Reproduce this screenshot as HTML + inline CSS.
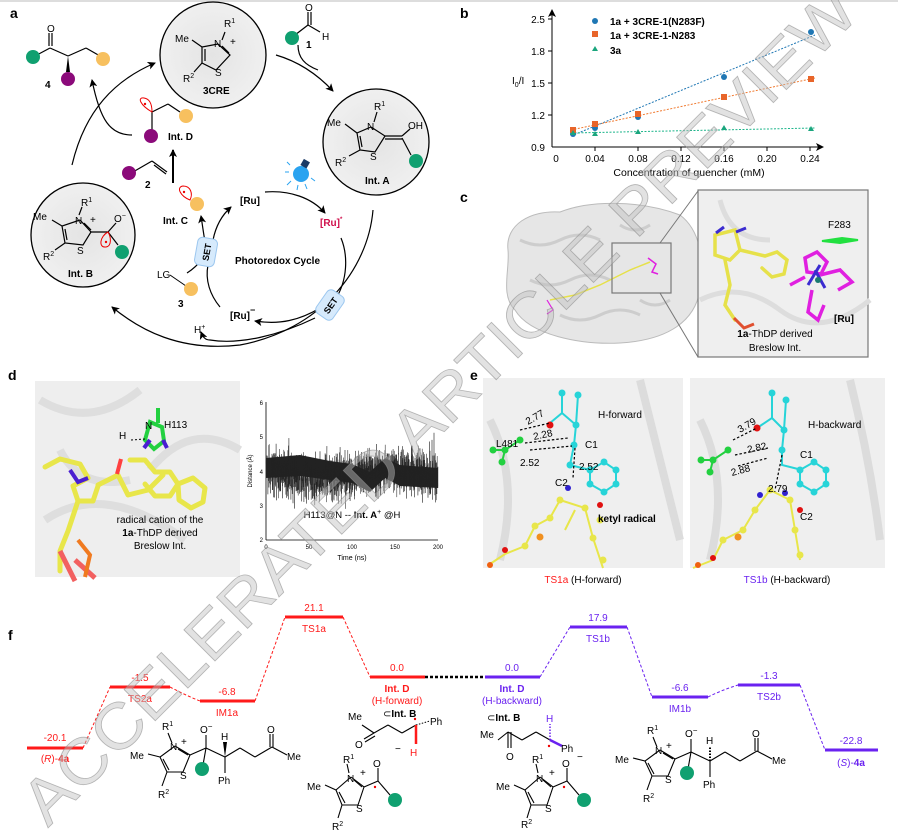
<!DOCTYPE html>
<html><head><meta charset="utf-8"><style>
html,body{margin:0;padding:0;background:#fff}
svg{display:block}
text{font-family:"Liberation Sans",Arial,sans-serif}
.b{font-weight:bold}
</style></head><body>
<svg width="898" height="839" viewBox="0 0 898 839" xmlns="http://www.w3.org/2000/svg">
<defs>
<marker id="ar" markerWidth="8" markerHeight="8" refX="7" refY="4" orient="auto" markerUnits="userSpaceOnUse"><path d="M0,0 L8,4 L0,8 L2,4 z" fill="#000"/></marker>
<radialGradient id="prot" cx="50%" cy="50%" r="60%"><stop offset="0" stop-color="#e4e4e4"/><stop offset="1" stop-color="#f2f2f2"/></radialGradient>
</defs>
<rect width="898" height="839" fill="#fff"/>
<line x1="0" y1="1" x2="898" y2="1" stroke="#ddd" stroke-width="2"/>

<!-- ============ PANEL A ============ -->
<text x="10" y="18" font-size="14" class="b">a</text>
<g stroke="#000" stroke-width="1.3">
<circle cx="213" cy="55" r="53" fill="url(#prot)"/>
<circle cx="376" cy="142" r="53" fill="url(#prot)"/>
<circle cx="83" cy="235" r="52" fill="url(#prot)"/>
</g>
<g stroke="#000" stroke-width="1.2" fill="none">
<polyline points="218,44 230,55 216,70 202,63 202,47 218,44"/>
<line x1="205" y1="49" x2="205" y2="61"/><line x1="222" y1="46" x2="229" y2="53"/>
<line x1="202" y1="47" x2="192" y2="40"/><line x1="202" y1="63" x2="194" y2="72"/><line x1="222" y1="40" x2="225" y2="32"/>
</g>
<text x="175" y="42" font-size="10">Me</text><text x="214" y="47" font-size="10">N</text><text x="224" y="27" font-size="10">R<tspan font-size="7" dy="-4">1</tspan></text>
<text x="230" y="45" font-size="10">+</text><text x="215" y="76" font-size="10">S</text><text x="183" y="82" font-size="10">R<tspan font-size="7" dy="-4">2</tspan></text>
<text x="203" y="94" font-size="10" class="b">3CRE</text>
<g stroke="#000" stroke-width="1.2" fill="none">
<polyline points="371,127 385,136 375,152 360,150 357,133 371,127"/>
<line x1="360" y1="136" x2="362" y2="147"/>
<line x1="385" y1="136" x2="402" y2="136"/><line x1="385" y1="139" x2="402" y2="139"/>
<line x1="402" y1="136" x2="410" y2="129"/><line x1="402" y1="138" x2="411" y2="155"/>
<line x1="357" y1="133" x2="345" y2="124"/><line x1="360" y1="150" x2="349" y2="156"/><line x1="374" y1="122" x2="377" y2="112"/>
</g>
<text x="327" y="126" font-size="10">Me</text><text x="367" y="130" font-size="10">N</text><text x="374" y="110" font-size="10">R<tspan font-size="7" dy="-4">1</tspan></text>
<text x="408" y="129" font-size="10">OH</text><text x="370" y="160" font-size="10">S</text><text x="335" y="166" font-size="10">R<tspan font-size="7" dy="-4">2</tspan></text>
<circle cx="416" cy="161" r="7" fill="#10a070"/>
<text x="365" y="184" font-size="10" class="b">Int. A</text>
<g stroke="#000" stroke-width="1.2" fill="none">
<polyline points="80,220 91,232 83,245 65,243 62,226 80,220"/>
<line x1="65" y1="229" x2="67" y2="240"/><line x1="84" y1="223" x2="91" y2="230"/>
<line x1="91" y1="232" x2="108" y2="232"/><line x1="108" y1="232" x2="116" y2="223"/><line x1="108" y1="232" x2="118" y2="245"/>
<line x1="62" y1="226" x2="52" y2="220"/><line x1="65" y1="243" x2="55" y2="250"/><line x1="79" y1="215" x2="82" y2="207"/>
</g>
<path d="M108,232 C100,236 98,248 106,247 C112,246 111,237 108,232z" fill="none" stroke="#e00" stroke-width="1"/><circle cx="106" cy="242" r="1.2" fill="#e00"/>
<text x="33" y="220" font-size="10">Me</text><text x="75" y="224" font-size="10">N</text><text x="81" y="206" font-size="10">R<tspan font-size="7" dy="-4">1</tspan></text>
<text x="90" y="223" font-size="10">+</text><text x="114" y="222" font-size="10">O<tspan font-size="7" dy="-4">−</tspan></text>
<text x="77" y="254" font-size="10">S</text><text x="43" y="260" font-size="10">R<tspan font-size="7" dy="-4">2</tspan></text>
<circle cx="122" cy="252" r="7" fill="#10a070"/>
<text x="68" y="277" font-size="10" class="b">Int. B</text>
<g stroke="#000" stroke-width="1.2" fill="none">
<line x1="35" y1="56" x2="50" y2="48"/><line x1="50" y1="48" x2="68" y2="56"/><line x1="68" y1="56" x2="86" y2="48"/><line x1="86" y1="48" x2="100" y2="56"/>
<line x1="49" y1="46" x2="49" y2="33"/><line x1="52" y1="46" x2="52" y2="33"/>
</g>
<path d="M68,56 L66,72 L70,72z" fill="#000"/>
<text x="47" y="32" font-size="10">O</text>
<circle cx="33" cy="57" r="7" fill="#10a070"/><circle cx="103" cy="59" r="7" fill="#f7c05f"/><circle cx="68" cy="79" r="7" fill="#8b0a7a"/>
<text x="45" y="88" font-size="10" class="b">4</text>
<g stroke="#000" stroke-width="1.2" fill="none"><line x1="295" y1="35" x2="308" y2="25"/><line x1="308" y1="25" x2="320" y2="32"/><line x1="308" y1="25" x2="308" y2="12"/><line x1="311" y1="25" x2="311" y2="12"/></g>
<text x="305" y="11" font-size="10">O</text><text x="322" y="40" font-size="10">H</text><text x="306" y="48" font-size="10" class="b">1</text>
<circle cx="292" cy="38" r="7" fill="#10a070"/>
<g stroke="#000" stroke-width="1.2" fill="none"><line x1="152" y1="112" x2="152" y2="130"/><line x1="152" y1="112" x2="168" y2="104"/><line x1="168" y1="104" x2="180" y2="112"/></g>
<path d="M152,112 C140,105 137,97 144,98 C151,99 152,106 152,112z" fill="none" stroke="#e00" stroke-width="1"/><circle cx="145" cy="104" r="1.2" fill="#e00"/>
<circle cx="186" cy="116" r="7" fill="#f7c05f"/><circle cx="151" cy="136" r="7" fill="#8b0a7a"/>
<text x="168" y="140" font-size="10" class="b">Int. D</text>
<g stroke="#000" stroke-width="1.2" fill="none"><line x1="133" y1="172" x2="152" y2="161"/><line x1="152" y1="161" x2="167" y2="172"/><line x1="154" y1="165" x2="166" y2="174"/></g>
<circle cx="129" cy="173" r="7" fill="#8b0a7a"/><text x="145" y="188" font-size="10" class="b">2</text>
<line x1="173" y1="183" x2="173" y2="150" stroke="#000" stroke-width="2" marker-end="url(#ar)"/>
<path d="M190,200 C180,196 176,187 183,186 C191,186 193,194 190,200z" fill="none" stroke="#e00" stroke-width="1"/><circle cx="184" cy="192" r="1.2" fill="#e00"/>
<circle cx="197" cy="204" r="7" fill="#f7c05f"/>
<text x="163" y="224" font-size="10" class="b">Int. C</text>
<line x1="170" y1="275" x2="186" y2="286" stroke="#000" stroke-width="1"/>
<text x="157" y="278" font-size="10">LG</text><circle cx="191" cy="289" r="7" fill="#f7c05f"/><text x="178" y="307" font-size="10" class="b">3</text>
<g stroke="#000" stroke-width="1.2" fill="none">
<path d="M72,165 C85,110 115,80 155,63" marker-end="url(#ar)"/>
<path d="M276,55 C300,62 318,75 333,91" marker-end="url(#ar)"/>
<path d="M298,45 C298,58 305,65 318,70"/>
<path d="M373,210 C368,270 320,330 240,345 C180,352 140,330 112,307" marker-end="url(#ar)"/>
<path d="M132,135 C110,135 100,120 92,80" marker-end="url(#ar)"/>
<path d="M315,318 C280,335 240,345 210,340 C205,340 203,337 201,332" marker-end="url(#ar)"/>
<path d="M265,192 C290,190 312,198 325,213" marker-end="url(#ar)"/>
<path d="M341,238 C348,255 348,280 335,300"/>
<path d="M320,308 C300,320 280,325 255,321" marker-end="url(#ar)"/>
<path d="M220,307 C210,295 205,280 208,265"/>
<path d="M213,240 C216,225 222,215 231,207" marker-end="url(#ar)"/>
<path d="M205,242 C203,230 202,222 201,216" marker-end="url(#ar)"/>
<path d="M187,273 C195,268 200,262 203,258"/>
</g>
<text x="240" y="204" font-size="10" class="b">[Ru]</text>
<text x="320" y="226" font-size="10" class="b" fill="#d0104c">[Ru]<tspan font-size="6" dy="-5">*</tspan></text>
<text x="235" y="264" font-size="10" class="b">Photoredox Cycle</text>
<text x="230" y="319" font-size="10" class="b">[Ru]<tspan font-size="9" dy="-6">−</tspan></text>
<text x="194" y="333" font-size="10">H<tspan font-size="7" dy="-4">+</tspan></text>
<g transform="translate(206,252) rotate(-80)"><rect x="-14" y="-10" width="28" height="20" rx="5" fill="#d6eafc" stroke="#9cc7ef"/><text x="0" y="4" font-size="9" class="b" text-anchor="middle">SET</text></g>
<g transform="translate(330,305) rotate(-55)"><rect x="-14" y="-10" width="28" height="20" rx="5" fill="#d6eafc" stroke="#9cc7ef"/><text x="0" y="4" font-size="9" class="b" text-anchor="middle">SET</text></g>
<g><circle cx="301" cy="174" r="8" fill="#2aa3f0"/><rect x="302" y="160" width="7" height="7" fill="#1b3b66" transform="rotate(30 305 163)"/>
<g stroke="#2aa3f0" stroke-width="1"><line x1="289" y1="172" x2="285" y2="172"/><line x1="291" y1="181" x2="287" y2="185"/><line x1="298" y1="185" x2="297" y2="190"/><line x1="305" y1="184" x2="307" y2="189"/><line x1="311" y1="178" x2="315" y2="181"/><line x1="290" y1="165" x2="287" y2="162"/></g></g>

<!-- ============ PANEL B ============ -->
<text x="460" y="18" font-size="14" class="b">b</text>
<g stroke="#000" stroke-width="1" fill="none">
<line x1="552" y1="147" x2="552" y2="10" marker-end="url(#ar)"/><line x1="552" y1="147" x2="823" y2="147" marker-end="url(#ar)"/>
<line x1="548" y1="19" x2="552" y2="19"/><line x1="548" y1="51" x2="552" y2="51"/><line x1="548" y1="83" x2="552" y2="83"/><line x1="548" y1="115" x2="552" y2="115"/>
<line x1="595" y1="147" x2="595" y2="151"/><line x1="638" y1="147" x2="638" y2="151"/><line x1="681" y1="147" x2="681" y2="151"/><line x1="724" y1="147" x2="724" y2="151"/><line x1="767" y1="147" x2="767" y2="151"/><line x1="810" y1="147" x2="810" y2="151"/>
</g>
<g font-size="10" text-anchor="end"><text x="545" y="23">2.5</text><text x="545" y="55">1.8</text><text x="545" y="87">1.5</text><text x="545" y="119">1.2</text><text x="545" y="151">0.9</text></g>
<g font-size="10" text-anchor="middle"><text x="556" y="162">0</text><text x="595" y="162">0.04</text><text x="638" y="162">0.08</text><text x="681" y="162">0.12</text><text x="724" y="162">0.16</text><text x="767" y="162">0.20</text><text x="810" y="162">0.24</text></g>
<text x="689" y="176" font-size="10.5" text-anchor="middle">Concentration of quencher (mM)</text>
<text x="512" y="84" font-size="10">I<tspan font-size="7" dy="3">0</tspan><tspan dy="-3">/I</tspan></text>
<g stroke-dasharray="2,1.5" stroke-width="1">
<line x1="571" y1="136" x2="815" y2="35" stroke="#1f77b4"/>
<line x1="571" y1="130" x2="815" y2="78" stroke="#f07a30"/>
<line x1="571" y1="133" x2="815" y2="128" stroke="#1bb58a"/>
</g>
<g fill="#1f77b4"><circle cx="573" cy="134" r="3"/><circle cx="595" cy="128" r="3"/><circle cx="638" cy="117" r="3"/><circle cx="724" cy="77" r="3"/><circle cx="811" cy="32" r="3"/><circle cx="595" cy="21" r="3"/></g>
<g fill="#e8652a"><rect x="570" y="127" width="6" height="6"/><rect x="592" y="121" width="6" height="6"/><rect x="635" y="111" width="6" height="6"/><rect x="721" y="94" width="6" height="6"/><rect x="808" y="76" width="6" height="6"/><rect x="592" y="31" width="6" height="6"/></g>
<g fill="#1aa57d"><path d="M573,130 l3,5 h-6z"/><path d="M595,131 l3,5 h-6z"/><path d="M638,129 l3,5 h-6z"/><path d="M724,125 l3,5 h-6z"/><path d="M811,126 l3,5 h-6z"/><path d="M595,46 l3,5 h-6z"/></g>
<g font-size="10" class="b"><text x="610" y="25">1a + 3CRE-1(N283F)</text><text x="610" y="39">1a + 3CRE-1-N283</text><text x="610" y="54">3a</text></g>

<!-- ============ PANEL C ============ -->
<text x="460" y="202" font-size="14" class="b">c</text>
<path d="M508,250 C505,225 530,210 560,212 C590,200 640,200 680,215 C700,230 705,260 700,290 C695,320 670,340 620,343 C580,345 530,335 515,310 C500,295 510,270 508,250z" fill="#e6e6e6" stroke="#bbb"/>
<g stroke="#cdcdcd" stroke-width="3" fill="none"><path d="M520,240 q20,10 40,0 t40,0"/><path d="M530,280 q20,10 40,0 t40,0"/><path d="M560,315 q20,10 40,0 t40,0"/><path d="M620,225 q15,10 30,0"/><path d="M640,300 q15,10 30,0"/></g>
<polyline points="550,300 575,295 600,285 630,270 650,262" fill="none" stroke="#e6e14a" stroke-width="1.5"/>
<path d="M648,258 l8,6 l-4,8 l6,2" fill="none" stroke="#e020e0" stroke-width="1.5"/>
<path d="M547,300 l6,10 l-6,4" fill="none" stroke="#e020e0" stroke-width="1.2"/>
<rect x="612" y="243" width="59" height="50" fill="none" stroke="#777" stroke-width="1.2"/>
<line x1="660" y1="243" x2="698" y2="191" stroke="#777"/><line x1="660" y1="293" x2="698" y2="357" stroke="#777"/>
<rect x="698" y="190" width="170" height="167" fill="#efefef" stroke="#777" stroke-width="1.2"/>
<g stroke="#ddd" stroke-width="5" fill="none"><path d="M700,300 q40,-20 80,10 t90,-10"/><path d="M720,200 q10,40 50,40"/></g>
<g stroke="#e6e14a" stroke-width="3.5" fill="none" stroke-linecap="round">
<path d="M715,235 l0,20 l15,5 l10,-10 l-5,-20 l-20,5z"/><path d="M725,260 l5,25 l-5,20 l10,15"/><path d="M740,250 l25,6 l12,-4 l10,8 l-3,14 l-12,3 l-10,-9"/>
</g>
<g stroke="#e05030" stroke-width="3" fill="none"><path d="M734,318 l10,10 l10,-4"/></g>
<path d="M736,232 l10,-4 M716,233 l8,-6" stroke="#3b2cd0" stroke-width="3"/>
<g stroke="#e020e0" stroke-width="3.5" fill="none"><path d="M805,258 l12,-6 l10,10 l-6,12 l-14,-2z"/><path d="M820,275 l20,-5 l12,12 l-14,8"/><path d="M812,290 l-4,22 l10,8 l6,-15"/><path d="M790,285 l15,-8"/></g>
<path d="M815,270 l10,18 M820,265 l-12,20" stroke="#3b2cd0" stroke-width="3"/><circle cx="818" cy="280" r="3" fill="#1a7a70"/>
<path d="M822,241 l20,-3 l16,2 l-18,3z" fill="#22e040" stroke="#22e040" stroke-width="2"/>
<text x="828" y="228" font-size="10">F283</text>
<text x="834" y="322" font-size="10" class="b">[Ru]</text>
<text x="775" y="337" font-size="10" text-anchor="middle"><tspan class="b">1a</tspan>-ThDP derived</text>
<text x="775" y="351" font-size="10" text-anchor="middle">Breslow Int.</text>

<!-- ============ PANEL D ============ -->
<text x="8" y="380" font-size="14" class="b">d</text>
<rect x="35" y="381" width="205" height="196" fill="#eeeeee"/>
<g stroke="#dedede" stroke-width="8" fill="none"><path d="M40,400 q50,30 100,-10"/><path d="M45,520 q60,-40 140,20"/><path d="M150,470 q40,-50 90,-20"/><path d="M60,450 q20,40 70,30"/></g>
<g stroke="#e8e64a" stroke-width="5" fill="none" stroke-linejoin="round" stroke-linecap="round">
<path d="M45,467 l15,-8 l20,5 l8,14"/><path d="M88,478 l-15,8 l5,15 l15,0 l5,-15"/>
<path d="M78,501 l-10,30 l-8,20 l0,20"/><path d="M98,485 l20,-10 l10,20 l20,-5 l15,-15"/>
<path d="M130,460 l15,0 l10,12 l15,0 l8,12 l-8,12 l-15,0 l-10,-12"/><path d="M178,484 l15,-6 l12,10 l-2,14 l-12,6 l-12,-8z"/>
</g>
<path d="M60,551 l15,30 M75,560 l20,18" stroke="#f26060" stroke-width="5"/>
<path d="M78,540 l12,15 l-5,22" stroke="#f07a20" stroke-width="4" fill="none"/>
<path d="M117,474 l4,-15" stroke="#ff4040" stroke-width="4"/>
<path d="M70,470 l8,12 l10,-4" stroke="#4a1ed0" stroke-width="4" fill="none"/>
<path d="M145,440 l5,-18 l12,5 l2,14 l-10,8z M158,423 l0,-15" stroke="#22d040" stroke-width="4" fill="none"/>
<path d="M150,440 l-6,8 M163,440 l4,8" stroke="#4a1ed0" stroke-width="4"/>
<line x1="131" y1="440" x2="145" y2="439" stroke="#000" stroke-dasharray="2,2"/>
<text x="119" y="439" font-size="10">H</text><text x="145" y="429" font-size="10">N</text><text x="164" y="428" font-size="10">H113</text>
<text x="160" y="523" font-size="10" text-anchor="middle">radical cation of the</text>
<text x="160" y="536" font-size="10" text-anchor="middle"><tspan class="b">1a</tspan>-ThDP derived</text>
<text x="160" y="549" font-size="10" text-anchor="middle">Breslow Int.</text>
<g stroke="#000" stroke-width="0.8"><line x1="266" y1="402" x2="266" y2="540"/><line x1="266" y1="540" x2="438" y2="540"/></g>
<g font-size="6" text-anchor="end"><text x="263" y="405">6</text><text x="263" y="439">5</text><text x="263" y="474">4</text><text x="263" y="508">3</text><text x="263" y="542">2</text></g>
<g font-size="6" text-anchor="middle"><text x="266" y="549">0</text><text x="309" y="549">50</text><text x="352" y="549">100</text><text x="395" y="549">150</text><text x="438" y="549">200</text></g>
<text x="352" y="560" font-size="7" text-anchor="middle">Time (ns)</text>
<text x="252" y="471" font-size="6" text-anchor="middle" transform="rotate(-90 252 471)">Distance (Å)</text>
<path d="M266,458 L300,455 L330,461 L352,464 L370,472 L385,458 L400,465 L438,468 L438,488 L400,486 L385,478 L370,492 L352,483 L330,480 L300,476 L266,478z" fill="#222"/>
<polyline id="noise" fill="none" stroke="#222" stroke-width="0.4" points=""/>
<text x="352" y="518" font-size="9.5" text-anchor="middle">H113@N -- <tspan class="b">Int. A</tspan><tspan font-size="7" dy="-4">+</tspan><tspan dy="4"> @H</tspan></text>

<!-- ============ PANEL E ============ -->
<text x="470" y="380" font-size="14" class="b">e</text>
<rect x="483" y="378" width="200" height="190" fill="#efefef"/>
<rect x="690" y="378" width="195" height="190" fill="#efefef"/>
<g stroke="#dcdcdc" stroke-width="8" fill="none"><path d="M490,420 q30,60 10,140"/><path d="M640,380 q20,80 40,160"/><path d="M700,420 q30,60 10,140"/><path d="M850,380 q20,80 30,160"/></g>
<g stroke="#27d4d8" stroke-width="2" fill="none"><path d="M562,393 l0,20 l-12,10 M562,413 l14,12 l-2,20 l-4,20 l20,5 M576,425 l2,-30 M590,470 l14,-8 l12,8 l0,14 l-12,8 l-14,-8z"/></g>
<g fill="#27d4d8"><circle cx="562" cy="393" r="3.5"/><circle cx="576" cy="425" r="3.5"/><circle cx="578" cy="395" r="3.5"/><circle cx="574" cy="445" r="3.5"/><circle cx="570" cy="465" r="3.5"/><circle cx="590" cy="470" r="3.5"/><circle cx="604" cy="462" r="3.5"/><circle cx="616" cy="470" r="3.5"/><circle cx="616" cy="484" r="3.5"/><circle cx="604" cy="492" r="3.5"/><circle cx="590" cy="484" r="3.5"/></g>
<circle cx="550" cy="425" r="3.5" fill="#e01010"/>
<g stroke="#e8e64a" stroke-width="2" fill="none"><path d="M560,500 l-10,18 l-15,8 l-10,20 l-20,8 l-15,10 M560,500 l25,8 l8,30 l10,30 M575,510 l-10,20"/></g>
<g fill="#e8e64a"><circle cx="550" cy="518" r="3.5"/><circle cx="535" cy="526" r="3.5"/><circle cx="525" cy="546" r="3.5"/><circle cx="585" cy="508" r="3.5"/><circle cx="593" cy="538" r="3.5"/><circle cx="603" cy="560" r="3.5"/><circle cx="600" cy="520" r="3.5"/><circle cx="560" cy="500" r="3.5"/></g>
<circle cx="540" cy="537" r="3.5" fill="#f09020"/><circle cx="505" cy="550" r="3" fill="#e01010"/><circle cx="490" cy="565" r="3" fill="#f06010"/>
<circle cx="568" cy="488" r="3" fill="#3020d0"/><circle cx="600" cy="505" r="3" fill="#e01010"/>
<g stroke="#22d040" stroke-width="2" fill="none"><path d="M520,440 l-15,10 l-10,0 M505,450 l-3,12"/></g>
<g fill="#22d040"><circle cx="520" cy="440" r="3.5"/><circle cx="505" cy="450" r="3.5"/><circle cx="493" cy="450" r="3.5"/><circle cx="502" cy="462" r="3.5"/></g>
<g stroke="#000" stroke-dasharray="2.5,2" stroke-width="1.2" fill="none"><line x1="520" y1="430" x2="550" y2="423"/><line x1="525" y1="443" x2="568" y2="438"/><line x1="530" y1="450" x2="572" y2="446"/><line x1="575" y1="448" x2="573" y2="478"/></g>
<g font-size="10"><text x="528" y="425" transform="rotate(-30 528 425)">2.77</text><text x="534" y="440" transform="rotate(-12 534 440)">2.28</text><text x="520" y="466">2.52</text><text x="579" y="470">2.52</text>
<text x="598" y="418">H-forward</text><text x="585" y="448">C1</text><text x="555" y="486">C2</text><text x="496" y="447">L481</text><text x="598" y="522" class="b">ketyl radical</text></g>
<text x="583" y="583" font-size="10" text-anchor="middle"><tspan fill="#ff1a1a">TS1a</tspan> (H-forward)</text>
<g stroke="#27d4d8" stroke-width="2" fill="none"><path d="M772,393 l0,25 l-15,10 M772,418 l12,12 l-2,20 l0,15 l20,5 M784,430 l2,-30 M800,470 l14,-8 l12,8 l0,14 l-12,8 l-14,-8z"/></g>
<g fill="#27d4d8"><circle cx="772" cy="393" r="3.5"/><circle cx="784" cy="430" r="3.5"/><circle cx="786" cy="400" r="3.5"/><circle cx="782" cy="450" r="3.5"/><circle cx="800" cy="470" r="3.5"/><circle cx="814" cy="462" r="3.5"/><circle cx="826" cy="470" r="3.5"/><circle cx="826" cy="484" r="3.5"/><circle cx="814" cy="492" r="3.5"/><circle cx="800" cy="484" r="3.5"/></g>
<circle cx="757" cy="428" r="3.5" fill="#e01010"/>
<g stroke="#e8e64a" stroke-width="2" fill="none"><path d="M770,490 l-15,20 l-12,20 l-20,10 l-10,20 l-20,8 M770,490 l20,10 l5,30 l5,30"/></g>
<g fill="#e8e64a"><circle cx="755" cy="510" r="3.5"/><circle cx="743" cy="530" r="3.5"/><circle cx="723" cy="540" r="3.5"/><circle cx="790" cy="500" r="3.5"/><circle cx="795" cy="530" r="3.5"/><circle cx="800" cy="555" r="3.5"/><circle cx="770" cy="490" r="3.5"/></g>
<circle cx="738" cy="537" r="3.5" fill="#f09020"/><circle cx="713" cy="558" r="3" fill="#e01010"/><circle cx="698" cy="565" r="3" fill="#f06010"/>
<circle cx="760" cy="495" r="3" fill="#3020d0"/><circle cx="785" cy="493" r="3" fill="#3020d0"/><circle cx="800" cy="510" r="3" fill="#e01010"/>
<g stroke="#22d040" stroke-width="2" fill="none"><path d="M728,450 l-15,10 l-10,0 M713,460 l-3,12"/></g>
<g fill="#22d040"><circle cx="728" cy="450" r="3.5"/><circle cx="713" cy="460" r="3.5"/><circle cx="701" cy="460" r="3.5"/><circle cx="710" cy="472" r="3.5"/></g>
<g stroke="#000" stroke-dasharray="2.5,2" stroke-width="1.2" fill="none"><line x1="733" y1="440" x2="757" y2="428"/><line x1="735" y1="455" x2="768" y2="448"/><line x1="738" y1="466" x2="768" y2="458"/><line x1="782" y1="455" x2="775" y2="490"/></g>
<g font-size="10"><text x="740" y="433" transform="rotate(-30 740 433)">3.79</text><text x="748" y="453" transform="rotate(-12 748 453)">2.82</text><text x="732" y="476" transform="rotate(-15 732 476)">2.88</text><text x="768" y="492">2.79</text>
<text x="808" y="428">H-backward</text><text x="800" y="458">C1</text><text x="800" y="520">C2</text></g>
<text x="787" y="583" font-size="10" text-anchor="middle"><tspan fill="#6a22f0">TS1b</tspan> (H-backward)</text>

<!-- ============ PANEL F ============ -->
<text x="8" y="640" font-size="14" class="b">f</text>
<g stroke="#ff1a1a" stroke-width="3"><line x1="27" y1="748" x2="83" y2="748"/><line x1="110" y1="687" x2="170" y2="687"/><line x1="200" y1="701" x2="255" y2="701"/><line x1="285" y1="617" x2="343" y2="617"/><line x1="370" y1="677" x2="425" y2="677"/></g>
<g stroke="#6a22f0" stroke-width="3"><line x1="485" y1="677" x2="540" y2="677"/><line x1="570" y1="627" x2="627" y2="627"/><line x1="652" y1="697" x2="708" y2="697"/><line x1="738" y1="685" x2="800" y2="685"/><line x1="825" y1="750" x2="878" y2="750"/></g>
<g stroke="#ff1a1a" stroke-width="1" stroke-dasharray="3,2" fill="none"><path d="M83,748 L110,687"/><path d="M170,687 Q185,695 200,701"/><path d="M255,701 L285,617"/><path d="M343,617 L370,677"/></g>
<line x1="425" y1="677" x2="485" y2="677" stroke="#000" stroke-width="2.5" stroke-dasharray="3,2"/>
<g stroke="#6a22f0" stroke-width="1" stroke-dasharray="3,2" fill="none"><path d="M540,677 L570,627"/><path d="M627,627 L652,697"/><path d="M708,697 Q722,690 738,685"/><path d="M800,685 L825,750"/></g>
<g font-size="10" fill="#ff1a1a" text-anchor="middle">
<text x="55" y="741">-20.1</text><text x="55" y="762">(<tspan font-style="italic">R</tspan>)-<tspan class="b">4a</tspan></text>
<text x="140" y="681">-1.5</text><text x="140" y="702">TS2a</text>
<text x="227" y="695">-6.8</text><text x="227" y="716">IM1a</text>
<text x="314" y="611">21.1</text><text x="314" y="632">TS1a</text>
<text x="397" y="671">0.0</text><text x="397" y="692" class="b">Int. D</text><text x="397" y="704">(H-forward)</text>
</g>
<g font-size="10" fill="#6a22f0" text-anchor="middle">
<text x="512" y="671">0.0</text><text x="512" y="692" class="b">Int. D</text><text x="512" y="704">(H-backward)</text>
<text x="598" y="621">17.9</text><text x="598" y="642">TS1b</text>
<text x="680" y="691">-6.6</text><text x="680" y="712">IM1b</text>
<text x="769" y="679">-1.3</text><text x="769" y="700">TS2b</text>
<text x="851" y="744">-22.8</text><text x="851" y="766">(<tspan font-style="italic">S</tspan>)-<tspan class="b">4a</tspan></text>
</g>
<!-- left adduct -->
<g stroke="#000" stroke-width="1.1" fill="none">
<polyline points="175,746 190,755 183,772 167,772 160,757 175,746"/><line x1="163" y1="759" x2="169" y2="770"/><line x1="178" y1="749" x2="188" y2="755"/>
<line x1="160" y1="757" x2="148" y2="754"/><line x1="167" y1="772" x2="162" y2="786"/><line x1="172" y1="743" x2="168" y2="733"/>
<line x1="190" y1="755" x2="206" y2="748"/><line x1="206" y1="748" x2="206" y2="735"/><line x1="206" y1="748" x2="203" y2="765"/>
<line x1="206" y1="748" x2="225" y2="757"/><line x1="225" y1="757" x2="240" y2="748"/><line x1="240" y1="748" x2="255" y2="757"/><line x1="255" y1="757" x2="272" y2="747"/><line x1="272" y1="747" x2="287" y2="755"/><line x1="270" y1="747" x2="270" y2="734"/><line x1="273" y1="747" x2="273" y2="734"/>
<line x1="225" y1="757" x2="225" y2="773"/></g>
<path d="M225,757 L223,742 L227,742z" fill="#000"/>
<g font-size="10"><text x="162" y="730">R<tspan font-size="7" dy="-4">1</tspan></text><text x="170" y="750">N</text><text x="181" y="745">+</text><text x="130" y="759">Me</text><text x="180" y="779">S</text><text x="158" y="798">R<tspan font-size="7" dy="-4">2</tspan></text><text x="200" y="733">O<tspan dy="-4" font-size="8">−</tspan></text><text x="221" y="740">H</text><text x="218" y="784">Ph</text><text x="267" y="733">O</text><text x="287" y="760">Me</text></g>
<circle cx="202" cy="769" r="7" fill="#10a070"/>
<!-- Int D forward chain -->
<g transform="translate(12,-8)">
<g stroke="#000" stroke-width="1.1" fill="none"><line x1="350" y1="733" x2="362" y2="741"/><line x1="362" y1="741" x2="376" y2="733"/><line x1="376" y1="733" x2="390" y2="741"/><line x1="390" y1="741" x2="404" y2="733"/><line x1="362" y1="741" x2="352" y2="747"/><line x1="363" y1="744" x2="353" y2="750"/></g>
<path d="M404,733 l14,-4" stroke="#000" stroke-dasharray="1.5,1.5"/><line x1="404" y1="733" x2="404" y2="752" stroke="#ff1a1a" stroke-width="2.5"/><circle cx="403" cy="727" r="1.2" fill="#e00"/>
<g font-size="10"><text x="336" y="728">Me</text><text x="343" y="756">O</text><text x="418" y="733">Ph</text><text x="371" y="725" class="b"><tspan font-weight="normal">⊂</tspan>Int. B</text><text x="398" y="764" fill="#ff1a1a">H</text><text x="383" y="760">−</text></g>
</g>
<g stroke="#000" stroke-width="1.1" fill="none"><polyline points="351,777 364,787 358,805 342,805 336,790 351,777"/><line x1="339" y1="792" x2="345" y2="803"/><line x1="354" y1="780" x2="362" y2="787"/><line x1="336" y1="790" x2="325" y2="785"/><line x1="342" y1="805" x2="338" y2="818"/><line x1="349" y1="773" x2="347" y2="764"/><line x1="364" y1="787" x2="378" y2="781"/><line x1="378" y1="781" x2="378" y2="768"/><line x1="378" y1="781" x2="390" y2="795"/></g>
<g font-size="10"><text x="343" y="763">R<tspan font-size="7" dy="-4">1</tspan></text><text x="347" y="782">N</text><text x="360" y="776">+</text><text x="307" y="790">Me</text><text x="356" y="812">S</text><text x="332" y="830">R<tspan font-size="7" dy="-4">2</tspan></text><text x="373" y="767">O</text></g>
<circle cx="375" cy="787" r="1.2" fill="#e00"/><circle cx="395" cy="800" r="7" fill="#10a070"/>
<!-- Int D backward chain -->
<g transform="translate(28,-30)">
<g stroke="#000" stroke-width="1.1" fill="none"><line x1="470" y1="770" x2="480" y2="762"/><line x1="480" y1="762" x2="494" y2="770"/><line x1="494" y1="770" x2="508" y2="762"/><line x1="508" y1="762" x2="522" y2="770"/><line x1="480" y1="762" x2="480" y2="778"/><line x1="483" y1="762" x2="483" y2="778"/></g>
<path d="M522,770 l12,6" stroke="#6a22f0" stroke-width="2.5"/><path d="M522,770 l0,-16" stroke="#6a22f0" stroke-dasharray="1.5,1.5" stroke-width="1.5"/><circle cx="521" cy="776" r="1.2" fill="#e00"/>
<g font-size="10"><text x="452" y="768">Me</text><text x="478" y="790">O</text><text x="533" y="782">Ph</text><text x="518" y="752" fill="#6a22f0">H</text></g>
</g>
<text x="487" y="721" font-size="10" class="b"><tspan font-weight="normal">⊂</tspan>Int. B</text>
<g transform="translate(70,-8)">
<g stroke="#000" stroke-width="1.1" fill="none"><polyline points="470,785 483,795 477,813 461,813 455,798 470,785"/><line x1="458" y1="800" x2="464" y2="811"/><line x1="473" y1="788" x2="481" y2="795"/><line x1="455" y1="798" x2="444" y2="793"/><line x1="461" y1="813" x2="457" y2="826"/><line x1="468" y1="781" x2="466" y2="772"/><line x1="483" y1="795" x2="497" y2="789"/><line x1="497" y1="789" x2="497" y2="776"/><line x1="497" y1="789" x2="509" y2="803"/></g>
<g font-size="10"><text x="462" y="771">R<tspan font-size="7" dy="-4">1</tspan></text><text x="466" y="790">N</text><text x="479" y="784">+</text><text x="426" y="798">Me</text><text x="475" y="820">S</text><text x="451" y="836">R<tspan font-size="7" dy="-4">2</tspan></text><text x="492" y="775">O</text><text x="507" y="768">−</text></g>
<circle cx="494" cy="795" r="1.2" fill="#e00"/><circle cx="514" cy="808" r="7" fill="#10a070"/>
</g>
<!-- right adduct -->
<g stroke="#000" stroke-width="1.1" fill="none">
<polyline points="660,750 675,759 668,776 652,776 645,761 660,750"/><line x1="648" y1="763" x2="654" y2="774"/><line x1="663" y1="753" x2="673" y2="759"/>
<line x1="645" y1="761" x2="633" y2="758"/><line x1="652" y1="776" x2="647" y2="790"/><line x1="657" y1="747" x2="653" y2="737"/>
<line x1="675" y1="759" x2="691" y2="752"/><line x1="691" y1="752" x2="691" y2="739"/><line x1="691" y1="752" x2="688" y2="769"/>
<line x1="691" y1="752" x2="710" y2="761"/><line x1="710" y1="761" x2="725" y2="752"/><line x1="725" y1="752" x2="740" y2="761"/><line x1="740" y1="761" x2="757" y2="751"/><line x1="757" y1="751" x2="772" y2="759"/><line x1="755" y1="751" x2="755" y2="738"/><line x1="758" y1="751" x2="758" y2="738"/>
<line x1="710" y1="761" x2="710" y2="777"/></g>
<path d="M710,761 l0,-14" stroke="#000" stroke-dasharray="1.5,1.5" stroke-width="2"/>
<g font-size="10"><text x="647" y="734">R<tspan font-size="7" dy="-4">1</tspan></text><text x="655" y="754">N</text><text x="666" y="749">+</text><text x="615" y="763">Me</text><text x="665" y="783">S</text><text x="643" y="802">R<tspan font-size="7" dy="-4">2</tspan></text><text x="685" y="737">O<tspan dy="-4" font-size="8">−</tspan></text><text x="706" y="744">H</text><text x="703" y="788">Ph</text><text x="752" y="737">O</text><text x="772" y="764">Me</text></g>
<circle cx="687" cy="773" r="7" fill="#10a070"/>

<!-- ============ WATERMARK ============ -->
<text x="0" y="0" transform="translate(48,828) rotate(-45)" font-size="64" fill="rgba(190,190,190,0.45)" stroke="rgba(140,140,140,0.6)" stroke-width="0.8" textLength="1150" lengthAdjust="spacingAndGlyphs">ACCELERATED ARTICLE PREVIEW</text>
</svg>
<script>
(function(){var p=[],s=7;function r(){s=(s*9301+49297)%233280;return s/233280;}
for(var i=0;i<=1700;i++){var x=266+i*172/1700,t=i/1700;var c=4.0-0.2*Math.sin(t*6)-0.25*t;var y=471-(c-4)*34.5+(r()+r()+r()-1.5)*22;if(r()<0.02)y-=30*r();p.push(x.toFixed(1)+","+y.toFixed(1));}
document.getElementById('noise').setAttribute('points',p.join(' '));})();
</script>
</body></html>
